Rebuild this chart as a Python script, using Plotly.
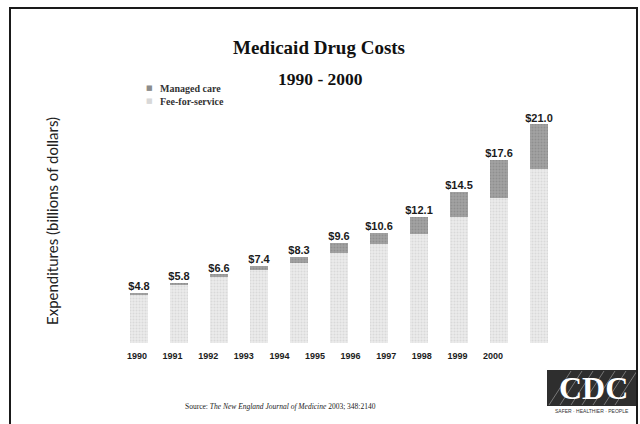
import plotly.graph_objects as go

# Medicaid outpatient drug spending, billions of dollars
years = [1990, 1991, 1992, 1993, 1994, 1995, 1996, 1997, 1998, 1999, 2000]
year_labels = ["1990", "1991", "1992", "1993", "1994", "1995",
               "1996", "1997", "1998", "1999", "2000"]
totals = [4.8, 5.8, 6.6, 7.4, 8.3, 9.6, 10.6, 12.1, 14.5, 17.6, 21.0]
managed_care = [0.1, 0.2, 0.3, 0.4, 0.6, 1.0, 1.1, 1.6, 2.4, 3.7, 4.3]
fee_for_service = [round(t - m, 1) for t, m in zip(totals, managed_care)]
value_labels = ["$%.1f" % t for t in totals]

W, H = 640, 424
ML, MR, MT, MB = 99, 61, 93, 81
PW, PH = W - ML - MR, H - MT - MB


def px_x(px):
    return (px - ML) / PW


def px_y(py):
    return (H - MB - py) / PH


SERIF = "Liberation Serif, Times New Roman, serif"
SANS = "Liberation Sans, Arial, sans-serif"
FFS_COLOR = "#e8e8e8"
MC_COLOR = "#9a9a9a"


def note(text, x, y, size, family=SERIF, color="#111111", xanchor="center",
         angle=0):
    fig.add_annotation(text=text, x=px_x(x), y=px_y(y), xref="paper",
                       yref="paper", showarrow=False, xanchor=xanchor,
                       yanchor="middle", textangle=angle,
                       font=dict(family=family, size=size, color=color))


fig = go.Figure()

fig.add_trace(go.Bar(
    x=years, y=fee_for_service, width=0.46, name="Fee-for-service",
    marker=dict(color=FFS_COLOR, line=dict(width=0),
                pattern=dict(shape=".", fgcolor="#c8c8c8", bgcolor="#ebebeb",
                             size=3, solidity=0.35)),
    showlegend=False, hoverinfo="skip"))
fig.add_trace(go.Bar(
    x=years, y=managed_care, width=0.46, name="Managed care",
    marker=dict(color=MC_COLOR, line=dict(width=0),
                pattern=dict(shape=".", fgcolor="#7c7c7c", bgcolor="#a2a2a2",
                             size=3, solidity=0.35)),
    showlegend=False, hoverinfo="skip"))

# dollar totals above each stack
fig.add_trace(go.Scatter(
    x=years, y=totals, mode="text", text=value_labels,
    textposition="top center",
    textfont=dict(family=SANS, size=11, color="#1c1c1c", weight="bold"),
    showlegend=False, hoverinfo="skip", cliponaxis=False))

# year labels on their own axis
fig.add_trace(go.Scatter(
    x=years, y=[0] * len(years), xaxis="x2", mode="markers",
    marker=dict(opacity=0), showlegend=False, hoverinfo="skip"))

lbl0 = 1990 - (137 - ML) / 35.6
lbl1 = lbl0 + PW / 35.6

fig.update_layout(
    width=W, height=H,
    margin=dict(l=ML, r=MR, t=MT, b=MB),
    paper_bgcolor="white", plot_bgcolor="white",
    barmode="stack",
    showlegend=False,
    title=dict(text="<b>Medicaid Drug Costs</b>", x=319 / W, xref="container",
               xanchor="center", y=1 - 47 / H, yref="container",
               yanchor="middle",
               font=dict(family=SERIF, size=19, color="#111111")),
    xaxis=dict(range=[1989, 2001], visible=False),
    xaxis2=dict(range=[lbl0, lbl1], overlaying="x", anchor="y", side="bottom",
                tickvals=years, ticktext=["<b>%s</b>" % s for s in year_labels],
                tickfont=dict(family=SANS, size=9, color="#1c1c1c"),
                showgrid=False, zeroline=False, showline=False, ticks="",
                ticklabelstandoff=6),
    yaxis=dict(range=[0, 24], visible=False),
)

# legend key
legend_rows = [("Managed care", "#8c8c8c", 88), ("Fee-for-service", "#d8d8d8", 101)]
for label, color, row_y in legend_rows:
    note("■", 149, row_y, 7, family="DejaVu Sans", color=color)
    note("<b>%s</b>" % label, 158, row_y, 10, color="#333333", xanchor="left")

note("<b>1990 - 2000</b>", 320, 79, 17.5)
note("Expenditures (billions of dollars)", 52, 221, 15,
     family="Lato, sans-serif", color="#222222", angle=-90)
note("Source: <i>The New England Journal of Medicine</i> 2003; 348:2140",
     280, 406, 7.5, color="#222222")

# slide frame
fig.add_shape(type="rect", xref="paper", yref="paper",
              x0=px_x(10), x1=px_x(637), y0=px_y(432), y1=px_y(8),
              line=dict(color="#1a1a1a", width=2), fillcolor="rgba(0,0,0,0)",
              layer="above")

# CDC logo block
fig.add_shape(type="rect", xref="paper", yref="paper",
              x0=px_x(547), x1=px_x(636), y0=px_y(406), y1=px_y(370),
              line=dict(width=0), fillcolor="#2e2e2e", layer="below")
for k in range(7):
    xs = 549 + k * 11
    fig.add_shape(type="line", xref="paper", yref="paper",
                  x0=px_x(xs), y0=px_y(405), x1=px_x(xs + 22), y1=px_y(371),
                  line=dict(color="#777777", width=1), layer="below")
note("<b>CDC</b>", 593, 388, 32, color="white")
note("SAFER · HEALTHIER · PEOPLE", 592, 411, 5, family=SANS, color="#333333")

fig.write_html("out.html")
